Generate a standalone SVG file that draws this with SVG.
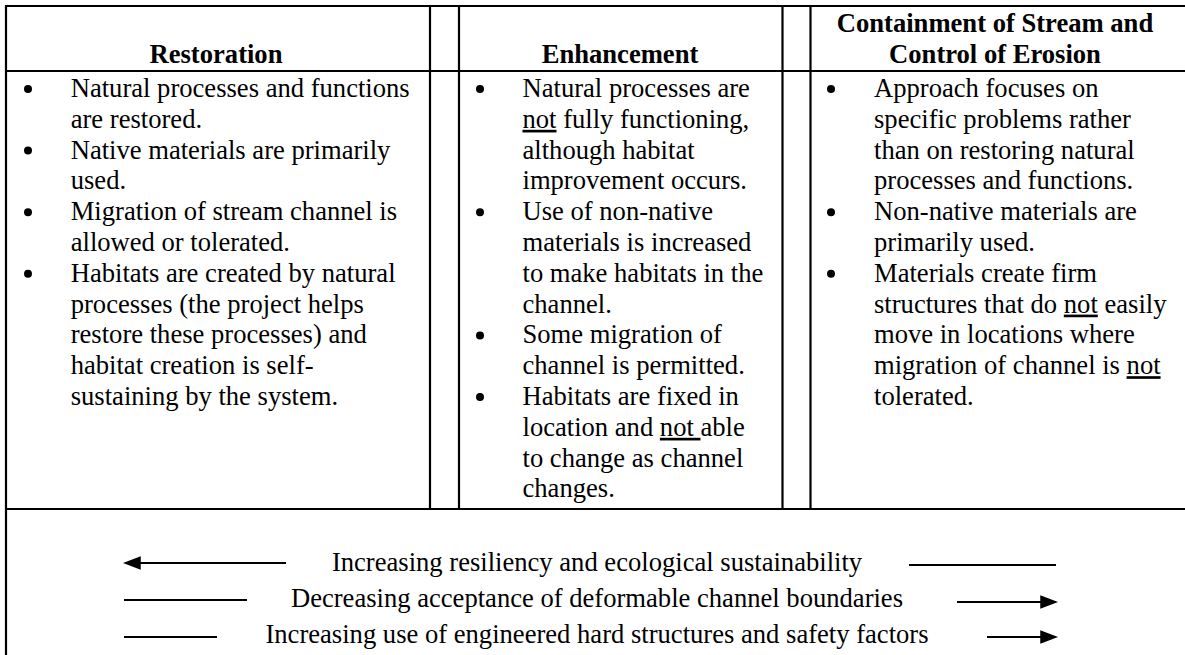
<svg xmlns="http://www.w3.org/2000/svg" width="1185" height="655" viewBox="0 0 1185 655">
<style>
text{font-family:"Liberation Serif","Times New Roman",serif;font-size:26.6px;fill:#000}
.h{font-weight:bold;text-anchor:middle}
.c{text-anchor:middle}
.u{text-decoration:underline}
.bul{fill:#000}
.grid line{stroke:#000;stroke-width:2.2}
.conn line{stroke:#000;stroke-width:2.2;fill:none}
</style>
<defs>
<marker id="ah" markerUnits="userSpaceOnUse" markerWidth="18" markerHeight="14" viewBox="0 0 16 12" refX="6" refY="6" orient="auto-start-reverse">
<path d="M0,0 L16,6 L0,12 z" fill="#000"/>
</marker>
</defs>
<rect width="1185" height="655" fill="#fff"/>
<g id="table-grid" class="grid">
<line x1="5" y1="6" x2="1185" y2="6"/>
<line x1="6" y1="71" x2="1185" y2="71"/>
<line x1="6" y1="509" x2="1185" y2="509"/>
<line x1="6" y1="5" x2="6" y2="655"/>
<line x1="430" y1="6" x2="430" y2="509"/>
<line x1="459" y1="6" x2="459" y2="509"/>
<line x1="782.5" y1="6" x2="782.5" y2="509"/>
<line x1="810.5" y1="6" x2="810.5" y2="509"/>
</g>
<g id="restoration">
<text class="h" x="216" y="62.7">Restoration</text>
<circle class="bul" cx="28" cy="89" r="4"/>
<circle class="bul" cx="28" cy="150.6" r="4"/>
<circle class="bul" cx="28" cy="212.2" r="4"/>
<circle class="bul" cx="28" cy="273.8" r="4"/>
<text x="70.7" y="97">Natural processes and functions</text>
<text x="70.7" y="127.8">are restored.</text>
<text x="70.7" y="158.6">Native materials are primarily</text>
<text x="70.7" y="189.4">used.</text>
<text x="70.7" y="220.2">Migration of stream channel is</text>
<text x="70.7" y="251">allowed or tolerated.</text>
<text x="70.7" y="281.8">Habitats are created by natural</text>
<text x="70.7" y="312.6">processes (the project helps</text>
<text x="70.7" y="343.4">restore these processes) and</text>
<text x="70.7" y="374.2">habitat creation is self-</text>
<text x="70.7" y="405">sustaining by the system.</text>
</g>
<g id="enhancement">
<text class="h" x="620" y="62.7">Enhancement</text>
<circle class="bul" cx="480" cy="89" r="4"/>
<circle class="bul" cx="480" cy="212.2" r="4"/>
<circle class="bul" cx="480" cy="335.4" r="4"/>
<circle class="bul" cx="480" cy="397" r="4"/>
<text x="522.5" y="97">Natural processes are</text>
<text x="522.5" y="127.8"><tspan class="u">not</tspan> fully functioning,</text>
<text x="522.5" y="158.6">although habitat</text>
<text x="522.5" y="189.4">improvement occurs.</text>
<text x="522.5" y="220.2">Use of non-native</text>
<text x="522.5" y="251">materials is increased</text>
<text x="522.5" y="281.8">to make habitats in the</text>
<text x="522.5" y="312.6">channel.</text>
<text x="522.5" y="343.4">Some migration of</text>
<text x="522.5" y="374.2">channel is permitted.</text>
<text x="522.5" y="405">Habitats are fixed in</text>
<text x="522.5" y="435.8" xml:space="preserve">location and <tspan class="u">not </tspan>able</text>
<text x="522.5" y="466.6">to change as channel</text>
<text x="522.5" y="497.4">changes.</text>
</g>
<g id="containment">
<text class="h" x="995" y="31.9">Containment of Stream and</text>
<text class="h" x="995" y="62.7">Control of Erosion</text>
<circle class="bul" cx="831" cy="89" r="4"/>
<circle class="bul" cx="831" cy="212.2" r="4"/>
<circle class="bul" cx="831" cy="273.8" r="4"/>
<text x="874" y="97">Approach focuses on</text>
<text x="874" y="127.8">specific problems rather</text>
<text x="874" y="158.6">than on restoring natural</text>
<text x="874" y="189.4">processes and functions.</text>
<text x="874" y="220.2">Non-native materials are</text>
<text x="874" y="251">primarily used.</text>
<text x="874" y="281.8">Materials create firm</text>
<text x="874" y="312.6">structures that do <tspan class="u">not</tspan> easily</text>
<text x="874" y="343.4">move in locations where</text>
<text x="874" y="374.2">migration of channel is <tspan class="u">not</tspan></text>
<text x="874" y="405">tolerated.</text>
</g>
<g id="trend-labels">
<text class="c" x="597" y="571">Increasing resiliency and ecological sustainability</text>
<text class="c" x="597" y="607">Decreasing acceptance of deformable channel boundaries</text>
<text class="c" x="597" y="643">Increasing use of engineered hard structures and safety factors</text>
</g>
<g id="connectors" class="conn">
<line x1="134" y1="563" x2="286" y2="563" marker-start="url(#ah)"/>
<line x1="909" y1="565" x2="1056" y2="565"/>
<line x1="124" y1="600" x2="247" y2="600"/>
<line x1="957" y1="602" x2="1047" y2="602" marker-end="url(#ah)"/>
<line x1="124" y1="637" x2="217" y2="637"/>
<line x1="987" y1="637" x2="1047" y2="637" marker-end="url(#ah)"/>
</g>
</svg>
